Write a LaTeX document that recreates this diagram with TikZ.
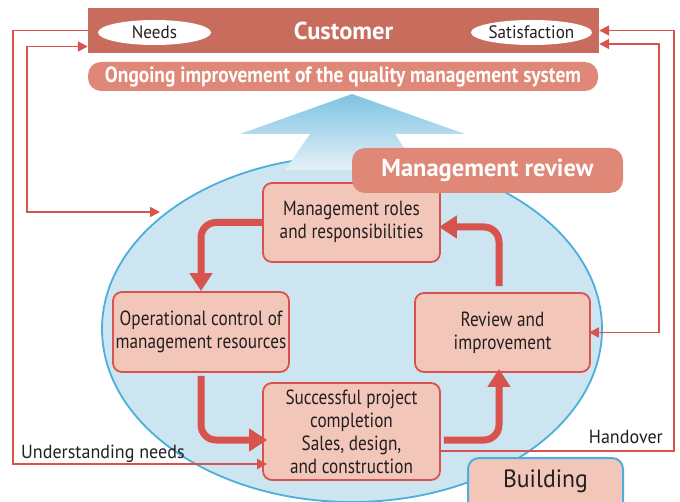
\documentclass[tikz,border=0pt]{standalone}
\usepackage{fontspec}
\setmainfont{PT Sans}[FakeStretch=0.84]
\newfontfamily\labfont{PT Sans}[FakeStretch=0.95]
\newfontfamily\boldn{PT Sans}[FakeStretch=0.88]
\newfontfamily\boldw{PT Sans}[FakeStretch=1.0]
\usetikzlibrary{arrows.meta,calc,shapes.geometric}
\definecolor{custc}{HTML}{C86C5E}
\definecolor{bandc}{HTML}{E08878}
\definecolor{nodefill}{HTML}{F2C6B8}
\definecolor{redline}{HTML}{D9534E}
\definecolor{ellfill}{HTML}{CDE5F1}
\definecolor{elldraw}{HTML}{4BAEDC}
\definecolor{txt}{HTML}{231F20}
\definecolor{arrtop}{HTML}{7EC3E2}
\definecolor{arrbot}{HTML}{E4F1F8}
\tikzset{
  box/.style={draw=redline, line width=1.8pt, fill=nodefill, rounded corners=9pt,
    text=txt, align=center, inner sep=0pt, font=\fontsize{20.5}{23}\selectfont},
  band/.style={fill=bandc, rounded corners=13pt, text=white, inner sep=0pt},
  bigarrow/.style={draw=redline, line width=7pt, rounded corners=15pt,
    -{Triangle[length=18pt,width=22pt]}},
  thinarrow/.style={draw=redline, line width=1.8pt,
    arrows={-Triangle[length=10pt,width=10pt]}},
  label/.style={text=txt, inner sep=0pt, font=\labfont\fontsize{19}{22}\selectfont},
  oval/.style={ellipse, fill=white, inner sep=0pt, text=txt,
    font=\labfont\fontsize{18}{20}\selectfont}
}
\begin{document}
\begin{tikzpicture}[x=1pt,y=-1pt]
\useasboundingbox (0,0) rectangle (680,502);

% big ellipse
\node[ellipse, draw=elldraw, line width=1.8pt, fill=ellfill,
  minimum width=500pt, minimum height=346pt, inner sep=0pt] (ell) at (352,329) {};

% upward arrow shape
\shade[top color=arrtop, bottom color=arrbot]
  (352,94) -- (465,134) -- (395,134) -- (418,170) -- (285,170) -- (310,134) -- (240,134) -- cycle;

% customer box
\node[fill=custc, minimum width=511pt, minimum height=45pt, inner sep=0pt] (cust) at (343.5,30.5) {};
\node[text=white, font=\boldw\fontsize{24.5}{26}\selectfont\bfseries] (custt) at (343.5,30.5) {Customer};
\node[oval, minimum width=113pt, minimum height=25pt] (needs) at (154.5,32.5) {Needs};
\node[oval, minimum width=113pt, minimum height=25pt] (satis) at (531.5,32.5) {Satisfaction};

% ongoing band
\node[band, minimum width=510pt, minimum height=29pt, font=\boldn\fontsize{22}{24}\selectfont\bfseries]
  (ongo) at (343,76.5) {Ongoing improvement of the quality management system};

% process boxes
\node[box, minimum width=177pt, minimum height=79pt] (roles) at (351.5,222.5)
  {\raisebox{-5pt}{\begin{tabular}{@{}c@{}}Management roles\\and responsibilities\end{tabular}}};
\node[band, minimum width=271pt, minimum height=45pt, font=\boldw\fontsize{24.5}{26}\selectfont\bfseries]
  (mrev) at (487.5,170.5) {Management review};
\node[box, minimum width=176pt, minimum height=80pt] (ops) at (201,332)
  {Operational control of\\management resources};
\node[box, minimum width=175pt, minimum height=79pt] (rev) at (502.5,332.5)
  {Review and\\improvement};
\node[box, minimum width=177pt, minimum height=97pt] (succ) at (351.5,431.5)
  {Successful project\\completion\\Sales, design,\\and construction};
\node[draw=elldraw, line width=2pt, fill=nodefill, rounded corners=11pt,
  minimum width=155pt, minimum height=60pt, inner sep=0pt, anchor=north,
  text=txt] (bld) at (545.5,457) {};
\node[text=txt, font=\labfont\fontsize{25}{27}\selectfont] (bldt) at (545.5,481) {Building};

% thick cycle arrows
\draw[bigarrow] (roles.west) -| (ops.north);
\draw[bigarrow, shorten <=3pt, shorten >=-5pt] (ops.south) |- ([yshift=-8.5pt]succ.west);
\draw[bigarrow, shorten <=3pt, shorten >=-4pt] ([yshift=-8.5pt]succ.east) -| ([xshift=-3.5pt]rev.south);
\draw[bigarrow, shorten <=6pt, shorten >=-2pt] ([xshift=-3.5pt]rev.north) |- ([yshift=-4.5pt]roles.east);

% thin feedback lines
\coordinate (lo) at (13,300);
\coordinate (li) at (27,100);
\coordinate (ro) at (674,300);
\coordinate (ri) at (659,200);
\coordinate (ellin) at (160,212);
\draw[thinarrow, shorten >=-5pt] (cust.west) -| (lo) |- ([yshift=-32.5pt]succ.west);
\draw[thinarrow, arrows={Triangle[length=10pt,width=10pt]-Triangle[length=10pt,width=10pt]}]
  ([yshift=-16pt]cust.west) -| (li) |- (ellin);
\draw[thinarrow, arrows={Triangle[length=10pt,width=10pt]-}]
  (cust.east) -| (ro) |- ([yshift=-19.5pt]succ.east);
\draw[thinarrow, arrows={Triangle[length=10pt,width=10pt]-Triangle[length=10pt,width=10pt]}, shorten >=-2pt]
  ([yshift=-13.5pt]cust.east) -| (ri) |- (rev.east);

% labels
\node[label, anchor=base west] (und) at (21,458) {Understanding needs};
\node[label, anchor=base east] (hand) at (663,443) {Handover};
\end{tikzpicture}
\end{document}
